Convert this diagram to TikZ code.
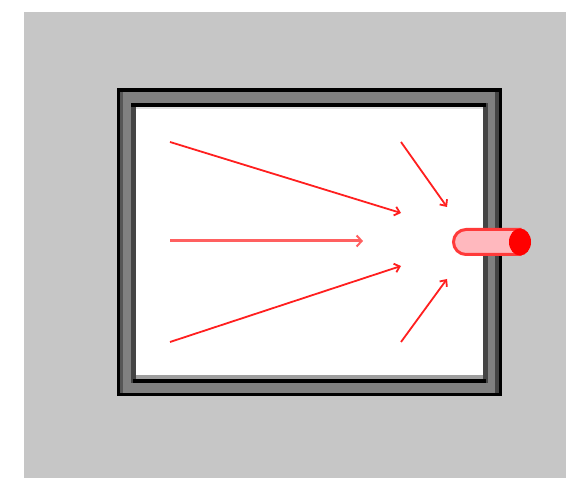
\documentclass[tikz,border=0pt]{standalone}
\usetikzlibrary{arrows.meta}
\definecolor{bggray}{HTML}{C6C6C6}
\definecolor{framegray}{HTML}{808080}
\definecolor{framedark}{HTML}{444444}
\definecolor{arrowred}{HTML}{FF1F1F}
\definecolor{midred}{HTML}{FF6060}
\definecolor{pinkbody}{HTML}{FFB8BE}
\definecolor{rimred}{HTML}{FF3A3A}
\tikzset{
  flow/.style={draw=arrowred, line width=1.8pt, -{Straight Barb[length=5pt,width=9pt,line width=1.8pt]}},
  midflow/.style={draw=midred, line width=3pt, -{Straight Barb[length=5pt,width=11pt,line width=2pt]}},
}
\begin{document}
\begin{tikzpicture}[x=1pt,y=-1pt]
\useasboundingbox (0,0) rectangle (566,478);
\fill[white] (0,0) rectangle (566,478);
\fill[bggray] (24,12) rectangle (566,478);
% frame layers
\fill[black] (117,88) rectangle (502,396);
\fill[framegray] (120,92) rectangle (499,393);
\fill[framedark!70!framegray] (120,92) rectangle (123,393);
\fill[framedark] (495,92) rectangle (499,393);
\fill[framedark] (131,103) rectangle (488,383);
\fill[black] (131,103) rectangle (486,107);
\fill[black] (133,379) rectangle (486,383);
\fill[white] (136,107) rectangle (483,375);
\fill[black!12] (136,107) rectangle (483,109);
\fill[black!38] (136,375) rectangle (483,379);
% connector
\filldraw[fill=pinkbody, draw=rimred, line width=3pt]
  (520,229.5) -- (466,229.5) arc[start angle=270, end angle=90, radius=12.5] -- (520,254.5) -- cycle;
\fill[red] (520,242) ellipse[x radius=11, y radius=13.5];
% arrow endpoints
\coordinate (a1) at (170,142);
\coordinate (b1) at (401,213);
\coordinate (a2) at (170,241);
\coordinate (b2) at (363,241);
\coordinate (a3) at (170,342);
\coordinate (b3) at (401,266);
\coordinate (a4) at (401,142);
\coordinate (b4) at (447,207);
\coordinate (a5) at (401,342);
\coordinate (b5) at (447,279);
\draw[flow] (a1) -- (b1);
\draw[midflow] (a2) -- (b2);
\draw[flow] (a3) -- (b3);
\draw[flow] (a4) -- (b4);
\draw[flow] (a5) -- (b5);
\end{tikzpicture}
\end{document}
